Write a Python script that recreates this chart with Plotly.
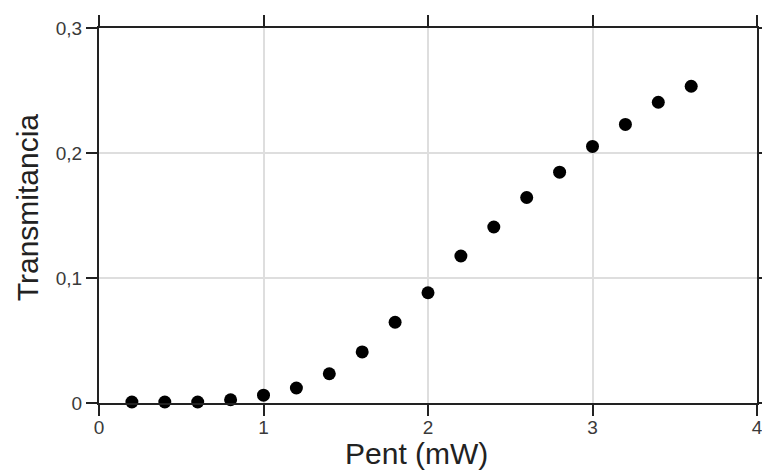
import plotly.graph_objects as go

# Transmittance measured against input power
pent_mw = [0.2, 0.4, 0.6, 0.8, 1.0, 1.2, 1.4, 1.6, 1.8, 2.0, 2.2, 2.4, 2.6, 2.8, 3.0, 3.2, 3.4, 3.6]
transmitancia = [0.0008, 0.0008, 0.0008, 0.0026, 0.0063, 0.0120, 0.0234, 0.0409, 0.0646, 0.0882,
                 0.1176, 0.1408, 0.1644, 0.1847, 0.2053, 0.2229, 0.2406, 0.2534]

x_tickvals = [0, 1, 2, 3, 4]
x_ticktext = ["0", "1", "2", "3", "4"]
y_tickvals = [0, 0.1, 0.2, 0.3]
y_ticktext = ["0", "0,1", "0,2", "0,3"]

x_title = "Pent (mW)"
y_title = "Transmitancia"

FONT = "Liberation Sans, Arial, Helvetica, sans-serif"
AXIS_COLOR = "#222222"

fig = go.Figure(
    go.Scatter(
        x=pent_mw,
        y=transmitancia,
        mode="markers",
        marker=dict(size=13, color="black"),
        cliponaxis=False,
        showlegend=False,
    )
)

axis_common = dict(
    showline=True,
    linecolor=AXIS_COLOR,
    linewidth=2,
    mirror="ticks",
    ticks="outside",
    ticklen=11,
    tickwidth=2,
    tickcolor=AXIS_COLOR,
    showgrid=True,
    gridcolor="#dedede",
    gridwidth=1.5,
    zeroline=False,
    automargin=False,
    ticklabeloverflow="allow",
    tickfont=dict(family=FONT, size=19, color="#3a3a3a"),
    tickmode="array",
)

fig.update_xaxes(range=[0, 4], tickvals=x_tickvals, ticktext=x_ticktext,
                 ticklabelstandoff=-5, **axis_common)
fig.update_yaxes(range=[0, 0.3], tickvals=y_tickvals, ticktext=y_ticktext,
                 ticklabelstandoff=0, **axis_common)

fig.update_layout(
    width=762,
    height=472,
    margin=dict(l=99, r=5, t=28, b=69),
    paper_bgcolor="white",
    plot_bgcolor="white",
    font=dict(family=FONT, color="#222222"),
    annotations=[
        dict(text=x_title, xref="paper", yref="paper", x=0.4825, y=0,
             yshift=-50, xanchor="center", yanchor="middle", showarrow=False,
             font=dict(family=FONT, size=30, color="#222222")),
        dict(text=y_title, xref="paper", yref="paper", x=0, y=0.522,
             xshift=-72, xanchor="center", yanchor="middle", textangle=-90,
             showarrow=False, font=dict(family=FONT, size=30, color="#222222")),
    ],
)

fig.write_html("out.html")
